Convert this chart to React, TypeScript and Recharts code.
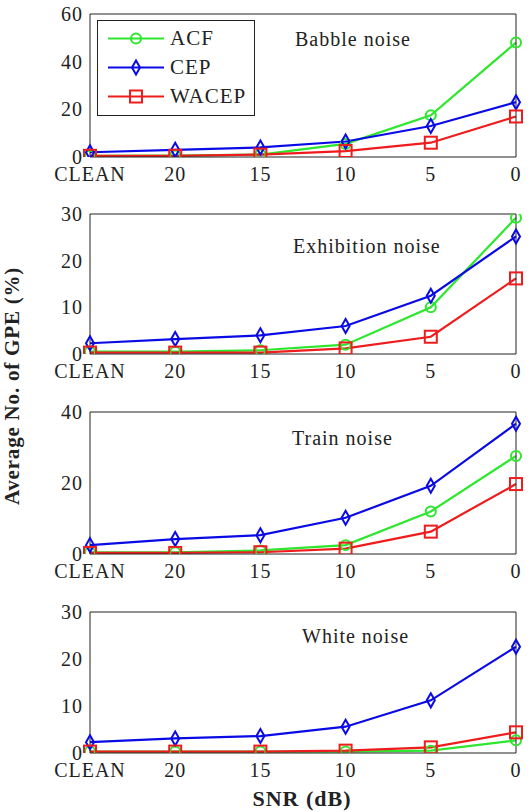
import React from "react";
import { LineChart, Line, XAxis, YAxis, Legend } from "recharts";

// SNR levels along the x axis
const snr = ["CLEAN", "20", "15", "10", "5", "0"];

// Average GPE (%) per noise type and method
const babbleAcf = [0.5, 0.6, 1, 5.5, 17.5, 48];
const babbleCep = [2, 3, 4, 6.5, 13, 23];
const babbleWacep = [0.5, 0.5, 1, 2.5, 6, 17];

const exhibitionAcf = [0.5, 0.5, 0.8, 2, 10, 29.2];
const exhibitionCep = [2.3, 3.2, 4, 6, 12.5, 25.2];
const exhibitionWacep = [0.3, 0.3, 0.3, 1.2, 3.7, 16.2];

const trainAcf = [0.5, 0.5, 1, 2.5, 12, 27.6];
const trainCep = [2.5, 4.2, 5.3, 10.2, 19.2, 36.7];
const trainWacep = [0.3, 0.3, 0.5, 1.5, 6.3, 19.7];

const whiteAcf = [0.3, 0.3, 0.3, 0.3, 0.5, 2.7];
const whiteCep = [2.3, 3.1, 3.6, 5.6, 11.2, 22.6];
const whiteWacep = [0.3, 0.3, 0.3, 0.5, 1.2, 4.4];

const titles = ["Babble noise", "Exhibition noise", "Train noise", "White noise"];
const yMaxes = [60, 30, 40, 30];
const yTickSets = [
  [0, 20, 40, 60],
  [0, 10, 20, 30],
  [0, 20, 40],
  [0, 10, 20, 30],
];
const seriesByPanel = [
  [babbleAcf, babbleCep, babbleWacep],
  [exhibitionAcf, exhibitionCep, exhibitionWacep],
  [trainAcf, trainCep, trainWacep],
  [whiteAcf, whiteCep, whiteWacep],
];

const seriesNames = ["ACF", "CEP", "WACEP"];
const seriesKeys = ["acf", "cep", "wacep"];
const seriesColors = ["#2ee62e", "#0a0ae6", "#ee1c1c"];
const seriesShapes = ["circle", "diamond", "square"];

// layout (plot tops at 14, 214, 412, 612)
const chartTops = [0, 200, 398, 598];
const plotHeights = [143, 140, 142, 141];
const titlePos = [
  { left: 295, top: 29 },
  { left: 293, top: 236 },
  { left: 292, top: 428 },
  { left: 302, top: 626 },
];
const serif = "Liberation Serif, Times New Roman, serif";
const ink = "#222";

const Marker = (props: any) => {
  const { cx, cy, stroke, shape } = props;
  if (cx == null || cy == null) return null;
  if (shape === "circle")
    return <circle cx={cx} cy={cy} r={5} fill="none" stroke={stroke} strokeWidth={2} />;
  if (shape === "diamond")
    return (
      <polygon
        points={`${cx},${cy - 7} ${cx + 4},${cy} ${cx},${cy + 7} ${cx - 4},${cy}`}
        fill="none"
        stroke={stroke}
        strokeWidth={2}
      />
    );
  return <rect x={cx - 6} y={cy - 6} width={12} height={12} fill="none" stroke={stroke} strokeWidth={2} />;
};

const XTick = (props: any) => (
  <text
    x={props.x}
    y={props.y}
    dy="0.71em"
    textAnchor="middle"
    fontFamily={serif}
    fontSize={20}
    letterSpacing={1}
    fill={ink}
  >
    {props.payload.value}
  </text>
);

const YTick = (props: any) => (
  <text
    x={props.x}
    y={props.y}
    dy="0.355em"
    textAnchor="end"
    fontFamily={serif}
    fontSize={20}
    letterSpacing={1}
    fill={ink}
  >
    {props.payload.value}
  </text>
);

const renderLegend = (props: any) => {
  const payload = props.payload || [];
  return (
    <div
      style={{
        border: `1.5px solid ${ink}`,
        background: "#fff",
        width: 158,
        height: 96,
        boxSizing: "border-box",
        paddingTop: 3,
      }}
    >
      {payload.map((e: any) => {
        const i = seriesNames.indexOf(e.value);
        return (
          <div key={e.value} style={{ display: "flex", alignItems: "center", height: 29 }}>
            <svg width={72} height={29}>
              <line x1={10} x2={66} y1={14.5} y2={14.5} stroke={e.color} strokeWidth={2.2} />
              <Marker cx={38} cy={14.5} stroke={e.color} shape={seriesShapes[i]} />
            </svg>
            <span style={{ fontFamily: serif, fontSize: 21, letterSpacing: 1, color: ink, lineHeight: "29px" }}>
              {e.value}
            </span>
          </div>
        );
      })}
    </div>
  );
};

const Panel = ({ idx }: { idx: number }) => {
  const series = seriesByPanel[idx];
  const data = snr.map((s, i) => ({
    snr: s,
    acf: series[0][i],
    cep: series[1][i],
    wacep: series[2][i],
  }));
  const yMax = yMaxes[idx];
  const yTicks = yTickSets[idx];
  return (
    <LineChart
      width={529}
      height={plotHeights[idx] + 44}
      data={data}
      margin={{ top: 14, right: 13, bottom: 0, left: 0 }}
      style={{ position: "absolute", left: 0, top: chartTops[idx] }}
    >
      <XAxis
        dataKey="snr"
        height={30}
        interval={0}
        axisLine={false}
        tickLine={false}
        tickSize={0}
        tickMargin={10}
        tick={<XTick />}
      />
      <XAxis xAxisId="bm" dataKey="snr" mirror tick={false} tickSize={5} stroke={ink} interval={0} />
      <XAxis xAxisId="tm" dataKey="snr" orientation="top" mirror tick={false} tickSize={5} stroke={ink} interval={0} />
      <YAxis
        width={90}
        domain={[0, yMax]}
        ticks={yTicks}
        allowDataOverflow
        axisLine={false}
        tickLine={false}
        tickSize={0}
        tickMargin={7}
        tick={<YTick />}
      />
      <YAxis yAxisId="lm" domain={[0, yMax]} ticks={yTicks} allowDataOverflow mirror tick={false} tickSize={5} stroke={ink} />
      <YAxis
        yAxisId="rm"
        orientation="right"
        domain={[0, yMax]}
        ticks={yTicks}
        allowDataOverflow
        mirror
        tick={false}
        tickSize={5}
        stroke={ink}
      />
      {idx === 0 && (
        <Legend
          layout="vertical"
          align="center"
          verticalAlign="middle"
          content={renderLegend}
          wrapperStyle={{ left: 97, top: 20, width: 158, height: 96 }}
        />
      )}
      {seriesKeys.map((k, i) => (
        <Line
          key={k}
          dataKey={k}
          name={seriesNames[i]}
          stroke={seriesColors[i]}
          strokeWidth={2.2}
          isAnimationActive={false}
          activeDot={false}
          dot={(p: any) => <Marker key={`${k}-${p.index}`} cx={p.cx} cy={p.cy} stroke={seriesColors[i]} shape={seriesShapes[i]} />}
        />
      ))}
    </LineChart>
  );
};

export default function App() {
  return (
    <div style={{ position: "absolute", left: 0, top: 0, width: 529, height: 812, background: "#fff" }}>
      {titles.map((_, i) => (
        <Panel key={i} idx={i} />
      ))}
      {titles.map((t, i) => (
        <div
          key={t}
          style={{
            position: "absolute",
            left: titlePos[i].left,
            top: titlePos[i].top,
            fontFamily: serif,
            fontSize: 20,
            lineHeight: "20px",
            letterSpacing: 1,
            color: ink,
            whiteSpace: "nowrap",
          }}
        >
          {t}
        </div>
      ))}
      <svg width={529} height={812} style={{ position: "absolute", left: 0, top: 0, pointerEvents: "none" }}>
        <text
          transform="translate(19,386) rotate(-90)"
          textAnchor="middle"
          fontFamily={serif}
          fontWeight="bold"
          fontSize={21}
          letterSpacing={0.8}
          fill={ink}
        >
          Average No. of GPE (%)
        </text>
        <text x={302} y={806} textAnchor="middle" fontFamily={serif} fontWeight="bold" fontSize={22} letterSpacing={1} fill={ink}>
          SNR (dB)
        </text>
      </svg>
    </div>
  );
}
